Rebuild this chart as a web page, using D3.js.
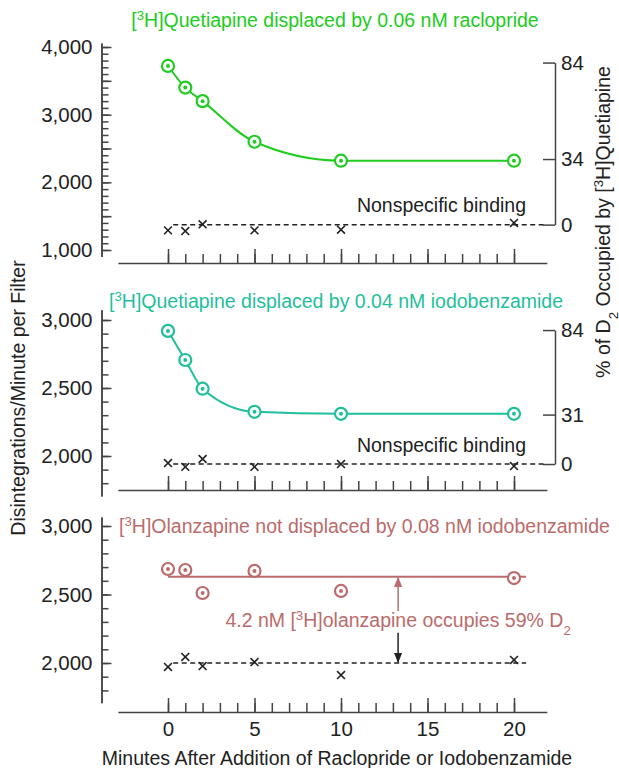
<!DOCTYPE html>
<html>
<head>
<meta charset="utf-8">
<script src="https://cdn.jsdelivr.net/npm/d3@7"></script>
<style>
  body { margin: 0; background: #fff; }
  svg { font-family: "Liberation Sans", Arial, sans-serif; }
</style>
</head>
<body>
<div id="chart"></div>
<script>
/* Data */
const minutes = [0, 1, 2, 5, 10, 20]
const xTicks = d3.range(0, 21)
const xLabels = [0, 5, 10, 15, 20]

// Panel A: [3H]quetiapine displaced by raclopride
const quetRaclo = [3720, 3400, 3200, 2600, 2320, 2320]
const nsRaclo = [1290, 1280, 1380, 1290, 1300, 1400]
const nsRacloLevel = 1375
const occRaclo = [0, 34, 84]
const occRacloSpan = [1375, 3770]   // DPM at 0% and 84%

// Panel B: [3H]quetiapine displaced by iodobenzamide
const quetIodo = [2920, 2706, 2495, 2325, 2310, 2310]
const nsIodo = [1948, 1920, 1978, 1920, 1941, 1926]
const nsIodoLevel = 1941
const occIodo = [0, 31, 84]
const occIodoSpan = [1941, 2926]

// Panel C: [3H]olanzapine not displaced by iodobenzamide
const olanIodo = [2686, 2679, 2511, 2672, 2526, 2620]
const nsOlan = [1971, 2044, 1978, 2007, 1912, 2022]
const olanLevel = 2630
const nsOlanLevel = 2000
const arrowMinute = 13.3

/* Setup */
const W = 619, H = 768
const FS = 19.5, TFS = 20.5
const svg = d3.select("#chart").append("svg").attr("width", W).attr("height", H)

const x = d3.scaleLinear().domain([0, 20]).range([168, 514])
const axisX = 101.5, rightX = 555

const panels = [
    { id: "A", color: "#20cc20", data: quetRaclo, ns: nsRaclo, nsLevel: nsRacloLevel,
      y: d3.scaleLinear().domain([1000, 4000]).range([250, 47]), yExt: [905, 4060],
      majors: [1000, 2000, 3000, 4000], mids: [1500, 2500, 3500], axisY: 263,
      occ: occRaclo, occSpan: occRacloSpan },
    { id: "B", color: "#1fbf9c", data: quetIodo, ns: nsIodo, nsLevel: nsIodoLevel,
      y: d3.scaleLinear().domain([2000, 3000]).range([456, 320]), yExt: [1705, 3075],
      majors: [2000, 2500, 3000], mids: [], axisY: 490,
      occ: occIodo, occSpan: occIodoSpan },
    { id: "C", color: "#bb6b6b", data: olanIodo, ns: nsOlan, nsLevel: nsOlanLevel,
      y: d3.scaleLinear().domain([2000, 3000]).range([663, 526]), yExt: [1710, 3065],
      majors: [2000, 2500, 3000], mids: [], axisY: 712 }
]

// text with super/subscripts
function richText(g, parts) {
    parts.forEach(p => {
        const t = g.append("tspan").text(p[0])
        if (p[1] == "sup") t.attr("baseline-shift", "super").attr("font-size", "0.68em")
        if (p[1] == "sub") t.attr("baseline-shift", "sub").attr("font-size", "0.68em")
    })
    return g
}

panels.forEach(P => {
    const g = svg.append("g").attr("id", "panel" + P.id)
    const y = P.y
    const yE = y.copy().domain(P.yExt).range(P.yExt.map(y))

    // Left axis: minor ticks every 100, longer at 500s
    const minors = d3.range(Math.ceil(P.yExt[0] / 100) * 100, P.yExt[1], 100)
    g.append("g").attr("transform", "translate(" + axisX + ",0)")
        .call(d3.axisLeft(yE).tickValues(minors).tickSize(-7).tickSizeOuter(0).tickFormat(""))
    g.append("g").attr("transform", "translate(" + axisX + ",0)")
        .call(d3.axisLeft(yE).tickValues(P.majors.concat(P.mids)).tickSize(-10).tickSizeOuter(0)
            .tickPadding(9).tickFormat(d => P.majors.includes(d) ? d3.format(",")(d) : ""))
    g.selectAll("path, line").attr("stroke", "#444").attr("stroke-width", 1.5)

    // Bottom axis with ticks pointing up
    const xE = x.copy().domain([-2.9, 21.9]).range([x(-2.9), x(21.9)])
    const gx = g.append("g").attr("transform", "translate(0," + P.axisY + ")")
    gx.call(d3.axisTop(xE).tickValues(xTicks).tickSize(9).tickSizeOuter(0).tickFormat(""))
    gx.append("g").call(d3.axisTop(xE).tickValues(xLabels).tickSize(14).tickSizeOuter(0).tickFormat(""))
        .select(".domain").remove()
    gx.selectAll("path, line").attr("stroke", "#444").attr("stroke-width", 1.5)
    if (P.id == "C") {
        gx.append("g").call(d3.axisBottom(xE).tickValues(xLabels).tickSize(0).tickPadding(9))
            .select(".domain").remove()
    }

    g.selectAll(".tick text").attr("font-size", TFS).attr("fill", "#222")
        .attr("font-family", "Liberation Sans, Arial, sans-serif")

    // Right occupancy axis
    if (P.occ) {
        const r = d3.scaleLinear().domain([0, 84]).range([y(P.occSpan[0]), y(P.occSpan[1])])
        const gr = g.append("g").attr("transform", "translate(" + rightX + ",0)")
            .call(d3.axisRight(r).tickValues(P.occ).tickSize(-12).tickSizeOuter(0).tickPadding(6))
        gr.selectAll("path, line").attr("stroke", "#444").attr("stroke-width", 1.5)
        gr.selectAll(".tick text").attr("font-size", TFS).attr("fill", "#222")
            .attr("font-family", "Liberation Sans, Arial, sans-serif")
    }

    // Nonspecific dashed level
    const nsEnd = P.id == "C" ? 20.7 : 21.7
    g.append("line")
        .attr("x1", x(0.3)).attr("x2", x(nsEnd))
        .attr("y1", y(P.nsLevel)).attr("y2", y(P.nsLevel))
        .attr("stroke", "#222").attr("stroke-width", 1.5).attr("stroke-dasharray", "5,3.5")

    // Nonspecific points as x crosses
    g.selectAll("path.ns").data(P.ns).enter().append("path").attr("class", "ns")
        .attr("transform", (d, i) => "translate(" + x(minutes[i]) + "," + y(d) + ")")
        .attr("d", d3.symbol(d3.symbolX, 42))
        .attr("fill", "none").attr("stroke", "#222").attr("stroke-width", 1.6)

    // Specific binding curve
    if (P.id == "C") {
        g.append("line")
            .attr("x1", x(0)).attr("x2", x(20.7))
            .attr("y1", y(olanLevel)).attr("y2", y(olanLevel))
            .attr("stroke", P.color).attr("stroke-width", 2)
    } else {
        g.append("path")
            .datum(P.data)
            .attr("d", d3.line().x((d, i) => x(minutes[i])).y(d => y(d)).curve(d3.curveMonotoneX))
            .attr("fill", "none").attr("stroke", P.color).attr("stroke-width", 2)
    }

    // Circle-dot markers
    const m = g.selectAll("g.pt").data(P.data).enter().append("g").attr("class", "pt")
        .attr("transform", (d, i) => "translate(" + x(minutes[i]) + "," + y(d) + ")")
    m.append("circle").attr("r", 6).attr("fill", "#fff").attr("stroke", P.color).attr("stroke-width", 2.2)
    m.append("circle").attr("r", 2).attr("fill", P.color)
})

// Titles
const [A, B, C] = panels
richText(svg.append("text").attr("x", 335).attr("y", 27).attr("text-anchor", "middle")
    .attr("font-size", FS).attr("fill", A.color),
    [["[", ""], ["3", "sup"], ["H]Quetiapine displaced by 0.06 nM raclopride", ""]])
richText(svg.append("text").attr("x", 336).attr("y", 308).attr("text-anchor", "middle")
    .attr("font-size", FS).attr("fill", B.color),
    [["[", ""], ["3", "sup"], ["H]Quetiapine displaced by 0.04 nM iodobenzamide", ""]])
richText(svg.append("text").attr("x", 119).attr("y", 533).attr("text-anchor", "start")
    .attr("font-size", FS).attr("fill", C.color),
    [["[", ""], ["3", "sup"], ["H]Olanzapine not displaced by 0.08 nM iodobenzamide", ""]])

// Nonspecific binding labels
svg.append("text").attr("x", 526).attr("y", 212).attr("text-anchor", "end")
    .attr("font-size", FS).attr("fill", "#222").text("Nonspecific binding")
svg.append("text").attr("x", 526).attr("y", 452).attr("text-anchor", "end")
    .attr("font-size", FS).attr("fill", "#222").text("Nonspecific binding")

// Olanzapine annotation with arrows
const yC = C.y
svg.append("defs").selectAll("marker").data([["arrRed", C.color], ["arrBlack", "#222"]]).enter()
    .append("marker").attr("id", d => d[0])
    .attr("viewBox", "0 0 10 10").attr("refX", 9).attr("refY", 5)
    .attr("markerWidth", 7).attr("markerHeight", 7).attr("orient", "auto")
    .append("path").attr("d", "M0,1 L10,5 L0,9 Z").attr("fill", d => d[1])
svg.append("line")
    .attr("x1", x(arrowMinute)).attr("x2", x(arrowMinute))
    .attr("y1", yC(2380)).attr("y2", yC(olanLevel) + 1)
    .attr("stroke", C.color).attr("stroke-width", 1.5).attr("marker-end", "url(#arrRed)")
svg.append("line")
    .attr("x1", x(arrowMinute)).attr("x2", x(arrowMinute))
    .attr("y1", yC(2220)).attr("y2", yC(nsOlanLevel) - 1)
    .attr("stroke", "#222").attr("stroke-width", 1.5).attr("marker-end", "url(#arrBlack)")
richText(svg.append("text").attr("x", x(arrowMinute)).attr("y", 627).attr("text-anchor", "middle")
    .attr("font-size", FS).attr("fill", C.color),
    [["4.2 nM [", ""], ["3", "sup"], ["H]olanzapine occupies 59% D", ""], ["2", "sub"]])

// Axis titles
svg.append("text").attr("x", 337).attr("y", 765).attr("text-anchor", "middle")
    .attr("font-size", FS).attr("fill", "#222")
    .text("Minutes After Addition of Raclopride or Iodobenzamide")
svg.append("text").attr("transform", "translate(25,398) rotate(-90)").attr("text-anchor", "middle")
    .attr("font-size", FS).attr("fill", "#222").text("Disintegrations/Minute per Filter")
richText(svg.append("text").attr("transform", "translate(610,222) rotate(-90)").attr("text-anchor", "middle")
    .attr("font-size", FS).attr("fill", "#222"),
    [["% of D", ""], ["2", "sub"], [" Occupied by [", ""], ["3", "sup"], ["H]Quetiapine", ""]])
</script>
</body>
</html>
